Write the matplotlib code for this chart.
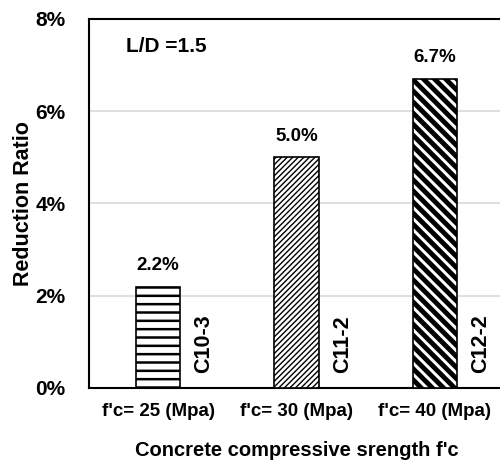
import matplotlib
matplotlib.use("Agg")
import matplotlib.pyplot as plt

categories = ["f'c= 25 (Mpa)", "f'c= 30 (Mpa)", "f'c= 40 (Mpa)"]
reduction = [0.022, 0.050, 0.067]
value_labels = ["2.2%", "5.0%", "6.7%"]
specimens = ["C10-3", "C11-2", "C12-2"]
yticks = [0.0, 0.02, 0.04, 0.06, 0.08]
ytick_labels = ["0%", "2%", "4%", "6%", "8%"]

hatches = ["--", "//////", "\\\\\\"]
hatch_widths = [1.8, 1.0, 3.5]

plt.rcParams['font.family'] = ['Liberation Sans', 'DejaVu Sans']
plt.rcParams['font.weight'] = 'bold'

fig = plt.figure(figsize=(5.0, 4.63), dpi=100)
ax = fig.add_axes([0.178, 0.162, 0.830, 0.797])

x = list(range(len(categories)))
bars = ax.bar(x, reduction, width=0.32, color='white', edgecolor='black',
              linewidth=1.2, zorder=3)
for b, h, hw in zip(bars, hatches, hatch_widths):
    b.set_hatch(h)
    if hasattr(b, 'set_hatch_linewidth'):
        b.set_hatch_linewidth(hw)

for xi, v, lab in zip(x, reduction, value_labels):
    ax.text(xi, v + 0.0027, lab, ha='center', va='bottom', fontsize=13.5,
            fontweight='bold')

for xi, s in zip(x, specimens):
    ax.text(xi + 0.33, 0.0033, s, rotation=90, ha='center', va='bottom',
            fontsize=15.5, fontweight='bold')

ax.text(0.089, 0.925, "L/D =1.5", transform=ax.transAxes, ha='left',
        va='center', fontsize=15, fontweight='bold')

ax.set_xlim(-0.5, 2.5)
ax.set_ylim(0, 0.08)
ax.set_yticks(yticks)
ax.set_yticklabels(ytick_labels, fontsize=15, fontweight='bold')
ax.set_xticks(x)
ax.set_xticklabels(categories, fontsize=13.5, fontweight='bold')
ax.tick_params(axis='y', length=0, pad=17)
ax.tick_params(axis='x', length=0, pad=11)

ax.yaxis.grid(True, color='#d9d9d9', linewidth=1.2, zorder=0)
ax.set_axisbelow(True)
for side in ['left', 'top', 'bottom']:
    ax.spines[side].set_linewidth(1.5)
ax.spines['right'].set_visible(False)

ax.set_ylabel("Reduction Ratio", fontsize=15.5, fontweight='bold', labelpad=1)
ax.set_xlabel("Concrete compressive srength f'c", fontsize=14.5,
              fontweight='bold', labelpad=15)

fig.savefig("out.png", dpi=100)
